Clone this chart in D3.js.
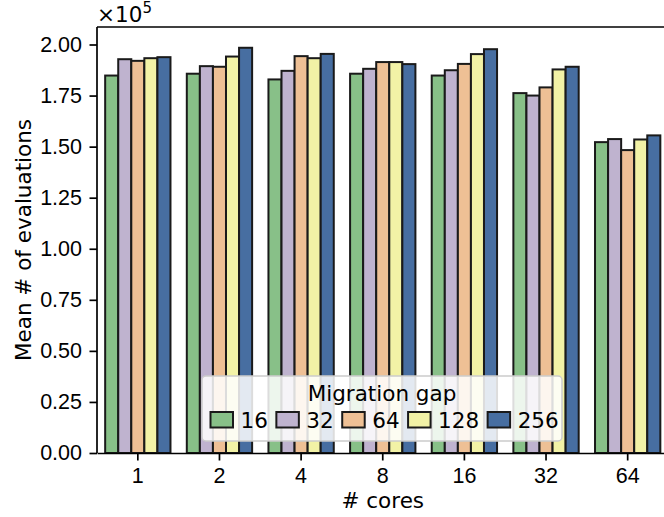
<!DOCTYPE html>
<html>
<head>
<meta charset="utf-8">
<script src="https://cdn.jsdelivr.net/npm/d3@7"></script>
<style>
  body { margin: 0; background: #fff; }
  svg { display: block; font-family: "DejaVu Sans", sans-serif; }
</style>
</head>
<body>
<svg id="chart" width="664" height="517"></svg>
<script>
// # cores on the x axis
const cores = ["1", "2", "4", "8", "16", "32", "64"];
// migration gaps (legend)
const gaps = ["16", "32", "64", "128", "256"];
const colors = ["#88c088", "#bfb3cf", "#eec095", "#f2f2a6", "#476ea1"];

// mean # of evaluations, one array per migration gap (in order of cores)
const gap16  = [184800, 185700, 182900, 185700, 184800, 176200, 152200];
const gap32  = [192800, 189400, 187100, 188100, 187400, 175000, 153700];
const gap64  = [192000, 189100, 194300, 191400, 190500, 179000, 148300];
const gap128 = [193300, 194100, 193300, 191400, 195300, 187800, 153500];
const gap256 = [193800, 198400, 195400, 190400, 197700, 189100, 155500];
const series = [gap16, gap32, gap64, gap128, gap256];

const yTicks = [0, 25000, 50000, 75000, 100000, 125000, 150000, 175000, 200000];

const fs = 21.5;
const margin = {top: 27, left: 97, bottom: 64};
const width = 664, height = 517;
const plotRight = 668.5;

const svg = d3.select("#chart");

const x = d3.scaleBand()
  .domain(cores)
  .range([margin.left, plotRight])
  .paddingInner(0.2)
  .paddingOuter(0.1);

const xSub = d3.scaleBand()
  .domain(d3.range(gaps.length))
  .range([0, x.bandwidth()]);

const y = d3.scaleLinear()
  .domain([0, 208570])
  .range([height - margin.bottom + 17 - 17 - 0, margin.top]);
// bottom of plot at 453
y.range([453, margin.top]);

// bars
const groups = svg.append("g")
  .selectAll("g")
  .data(series)
  .join("g")
  .attr("fill", (d, i) => colors[i]);

groups.selectAll("rect")
  .data((d, i) => d.map((v, j) => ({v: v, core: cores[j], s: i})))
  .join("rect")
  .attr("x", d => x(d.core) + xSub(d.s))
  .attr("y", d => y(d.v))
  .attr("width", xSub.bandwidth())
  .attr("height", d => y(0) - y(d.v))
  .attr("stroke", "#1a1a1a")
  .attr("stroke-width", 2);

// axes
const xAxis = d3.axisBottom(x).tickSize(7.5).tickSizeOuter(0).tickPadding(7);
const yAxis = d3.axisLeft(y).tickValues(yTicks)
  .tickFormat(d => (d / 1e5).toFixed(2))
  .tickSize(7.5).tickSizeOuter(0).tickPadding(7.5);

const gx = svg.append("g")
  .attr("transform", `translate(0,${y(0)})`)
  .call(xAxis);
const gy = svg.append("g")
  .attr("transform", `translate(${margin.left},0)`)
  .call(yAxis);

[gx, gy].forEach(g => {
  g.selectAll("text").attr("fill", "#000").style("font-size", fs + "px");
  g.selectAll("line").attr("stroke", "#000").attr("stroke-width", 1.7);
  g.select(".domain").attr("stroke", "#000").attr("stroke-width", 1.7);
});
gy.select(".domain").attr("d", `M0,${y(0)}V${margin.top}`);

// top spine
svg.append("line")
  .attr("x1", margin.left).attr("x2", plotRight)
  .attr("y1", margin.top).attr("y2", margin.top)
  .attr("stroke", "#000").attr("stroke-width", 1.7);

// offset text
const off = svg.append("text")
  .attr("x", 97).attr("y", 21.5)
  .style("font-size", fs + "px");
off.append("tspan").text("\u00d710");
off.append("tspan").attr("dy", -9).style("font-size", "15px").text("5");

// axis labels
svg.append("text")
  .attr("x", (margin.left + plotRight) / 2).attr("y", 508)
  .attr("text-anchor", "middle")
  .style("font-size", fs + "px")
  .text("# cores");

svg.append("text")
  .attr("transform", `translate(31,${(margin.top + 453) / 2}) rotate(-90)`)
  .attr("text-anchor", "middle")
  .style("font-size", fs + "px")
  .text("Mean # of evaluations");

// legend
const leg = svg.append("g");
leg.append("rect")
  .attr("x", 202).attr("y", 376)
  .attr("width", 360).attr("height", 65)
  .attr("rx", 4)
  .attr("fill", "#fff").attr("fill-opacity", 0.85)
  .attr("stroke", "#cccccc").attr("stroke-width", 1.5);
leg.append("text")
  .attr("x", 382).attr("y", 401)
  .attr("text-anchor", "middle")
  .style("font-size", fs + "px")
  .text("Migration gap");

let lx = 210.5;
gaps.forEach((g, i) => {
  leg.append("rect")
    .attr("x", lx).attr("y", 412)
    .attr("width", 22.5).attr("height", 15.5)
    .attr("fill", colors[i])
    .attr("stroke", "#1a1a1a").attr("stroke-width", 2);
  const t = leg.append("text")
    .attr("x", lx + 22.5 + 7.5).attr("y", 427.5)
    .style("font-size", fs + "px")
    .text(g);
  lx += 22.5 + 7.5 + t.node().getComputedTextLength() + 8.5;
});
</script>
</body>
</html>
